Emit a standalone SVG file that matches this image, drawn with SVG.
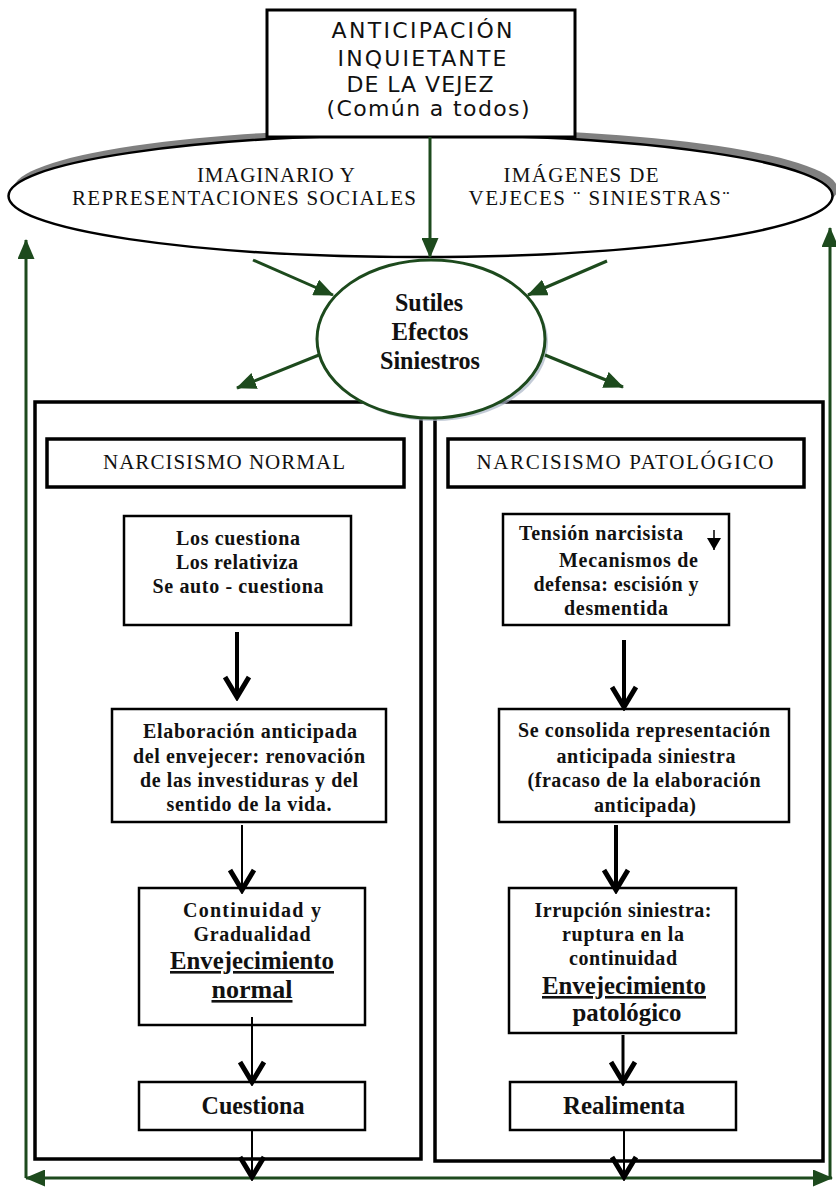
<svg xmlns="http://www.w3.org/2000/svg" width="836" height="1188" viewBox="0 0 836 1188">
<style>
.sans{font-family:"DejaVu Sans","Liberation Sans",sans-serif;font-size:22px;fill:#111}
.ser{font-family:"Liberation Serif","DejaVu Serif",serif;fill:#111}
.ell{font-size:21px}
.hdr{font-size:21px}
.bx{font-size:20px;font-weight:bold}
.big{font-size:26px;font-weight:bold}
.box{fill:#fff;stroke:#000;stroke-width:2.5}
.hbox{fill:#fff;stroke:#000;stroke-width:3.5}
.panel{fill:#fff;stroke:#000;stroke-width:3.5}
.g{stroke:#1d4a1d;stroke-width:3;fill:none}
.k{stroke:#000;fill:none}
</style>
<defs>
<marker id="ga" viewBox="0 0 20 17" refX="19" refY="8.5" markerWidth="20" markerHeight="17" markerUnits="userSpaceOnUse" orient="auto-start-reverse">
<path d="M0,0 L20,8.5 L0,17 z" fill="#1d4a1d"/>
</marker>
<marker id="kv" viewBox="0 0 28 26" refX="14" refY="22" markerWidth="28" markerHeight="26" markerUnits="userSpaceOnUse">
<path d="M2,2 L14,22 L26,2" fill="none" stroke="#000" stroke-width="5"/>
</marker>
<marker id="kt" viewBox="0 0 14 12" refX="7" refY="12" markerWidth="14" markerHeight="12" markerUnits="userSpaceOnUse">
<path d="M0,0 L14,0 L7,12 z" fill="#000"/>
</marker>
</defs>

<g id="ellipse-social">
<ellipse cx="425.5" cy="189" rx="412" ry="61" fill="#808080"/>
<ellipse cx="420.5" cy="196" rx="412" ry="61" fill="#fff" stroke="#000" stroke-width="2.5"/>
<text class="ser ell" x="276" y="182" text-anchor="middle" textLength="158" lengthAdjust="spacing">IMAGINARIO Y</text>
<text class="ser ell" x="244" y="205" text-anchor="middle" textLength="344" lengthAdjust="spacing">REPRESENTACIONES  SOCIALES</text>
<text class="ser ell" x="581" y="182" text-anchor="middle" textLength="155" lengthAdjust="spacing">IMÁGENES DE</text>
<text class="ser ell" x="599" y="205" text-anchor="middle" textLength="261" lengthAdjust="spacing">VEJECES ¨ SINIESTRAS¨</text>
</g>

<g id="anticipacion">
<rect x="267" y="10" width="308" height="127" fill="#fff" stroke="#000" stroke-width="3"/>
<text class="sans" x="422" y="38" text-anchor="middle" textLength="181" lengthAdjust="spacing">ANTICIPACIÓN</text>
<text class="sans" x="422" y="66" text-anchor="middle" textLength="169" lengthAdjust="spacing">INQUIETANTE</text>
<text class="sans" x="420" y="92" text-anchor="middle" textLength="147" lengthAdjust="spacing">DE LA VEJEZ</text>
<text class="sans" x="428" y="116" text-anchor="middle" textLength="203" lengthAdjust="spacing">(Común a todos)</text>
</g>

<g id="panel-normal">
<rect class="panel" x="35" y="402" width="386" height="757"/>
<rect class="hbox" x="47" y="439" width="357" height="48"/>
<text class="ser hdr" x="224" y="469" text-anchor="middle" textLength="242" lengthAdjust="spacing">NARCISISMO NORMAL</text>
</g>

<g id="panel-patologico">
<rect class="panel" x="435" y="402" width="388" height="759"/>
<rect class="hbox" x="448" y="439" width="356" height="48"/>
<text class="ser hdr" x="625" y="469" text-anchor="middle" textLength="297" lengthAdjust="spacing">NARCISISMO  PATOLÓGICO</text>
</g>

<g id="n1">
<rect class="box" x="124" y="516" width="227" height="109"/>
<text class="ser bx" x="238" y="545" text-anchor="middle" textLength="124" lengthAdjust="spacing">Los cuestiona</text>
<text class="ser bx" x="237" y="569" text-anchor="middle" textLength="122" lengthAdjust="spacing">Los relativiza</text>
<text class="ser bx" x="238" y="593" text-anchor="middle" textLength="171" lengthAdjust="spacing">Se auto - cuestiona</text>
</g>

<g id="n2">
<rect class="box" x="112" y="709" width="274" height="113"/>
<text class="ser bx" x="250" y="738" text-anchor="middle" textLength="214" lengthAdjust="spacing">Elaboración anticipada</text>
<text class="ser bx" x="249" y="763" text-anchor="middle" textLength="232" lengthAdjust="spacing">del envejecer: renovación</text>
<text class="ser bx" x="249" y="787" text-anchor="middle" textLength="218" lengthAdjust="spacing">de las investiduras y del</text>
<text class="ser bx" x="249" y="811" text-anchor="middle" textLength="165" lengthAdjust="spacing">sentido de la vida.</text>
</g>

<g id="n3">
<rect class="box" x="139" y="888" width="226" height="137"/>
<text class="ser bx" x="252" y="917" text-anchor="middle" textLength="138" lengthAdjust="spacing">Continuidad  y</text>
<text class="ser bx" x="252" y="941" text-anchor="middle" textLength="117" lengthAdjust="spacing">Gradualidad</text>
<text class="ser big" x="252" y="969" text-anchor="middle" textLength="164" lengthAdjust="spacingAndGlyphs" text-decoration="underline">Envejecimiento</text>
<text class="ser big" x="252" y="998" text-anchor="middle" textLength="81" lengthAdjust="spacingAndGlyphs" text-decoration="underline">normal</text>
</g>

<g id="n4">
<rect class="box" x="139" y="1082" width="226" height="48"/>
<text class="ser big" x="253" y="1114" text-anchor="middle" textLength="103" lengthAdjust="spacingAndGlyphs">Cuestiona</text>
</g>

<g id="p1">
<rect class="box" x="503" y="514" width="226" height="111"/>
<text class="ser bx" x="519" y="540" textLength="164" lengthAdjust="spacing">Tensión narcisista</text>
<text class="ser bx" x="559" y="567" textLength="139" lengthAdjust="spacing">Mecanismos de</text>
<text class="ser bx" x="616" y="591" text-anchor="middle" textLength="165" lengthAdjust="spacing">defensa: escisión y</text>
<text class="ser bx" x="616" y="615" text-anchor="middle" textLength="104" lengthAdjust="spacing">desmentida</text>
<path d="M714,530 L714,550" stroke="#000" stroke-width="1.5" marker-end="url(#kt)"/>
</g>

<g id="p2">
<rect class="box" x="499" y="709" width="290" height="113"/>
<text class="ser bx" x="644" y="737" text-anchor="middle" textLength="252" lengthAdjust="spacing">Se consolida representación</text>
<text class="ser bx" x="646" y="763" text-anchor="middle" textLength="179" lengthAdjust="spacing">anticipada siniestra</text>
<text class="ser bx" x="644" y="787" text-anchor="middle" textLength="233" lengthAdjust="spacing">(fracaso de la elaboración</text>
<text class="ser bx" x="645" y="812" text-anchor="middle" textLength="102" lengthAdjust="spacing">anticipada)</text>
</g>

<g id="p3">
<rect class="box" x="509" y="888" width="227" height="145"/>
<text class="ser bx" x="623" y="917" text-anchor="middle" textLength="177" lengthAdjust="spacing">Irrupción siniestra:</text>
<text class="ser bx" x="623" y="941" text-anchor="middle" textLength="122" lengthAdjust="spacing">ruptura en la</text>
<text class="ser bx" x="623" y="965" text-anchor="middle" textLength="108" lengthAdjust="spacing">continuidad</text>
<text class="ser big" x="624" y="994" text-anchor="middle" textLength="164" lengthAdjust="spacingAndGlyphs" text-decoration="underline">Envejecimiento</text>
<text class="ser big" x="627" y="1021" text-anchor="middle" textLength="109" lengthAdjust="spacingAndGlyphs">patológico</text>
</g>

<g id="p4">
<rect class="box" x="510" y="1082" width="226" height="48"/>
<text class="ser big" x="624" y="1114" text-anchor="middle" textLength="122" lengthAdjust="spacingAndGlyphs">Realimenta</text>
</g>

<g id="sutiles">
<ellipse cx="434" cy="342" rx="114" ry="79" fill="#a9b5c6" opacity="0.7"/>
<ellipse cx="431" cy="339" rx="114" ry="79" fill="#fff" stroke="#1d4a1d" stroke-width="3"/>
<text class="ser big" x="429" y="311" text-anchor="middle" textLength="68" lengthAdjust="spacingAndGlyphs">Sutiles</text>
<text class="ser big" x="430" y="340" text-anchor="middle" textLength="77" lengthAdjust="spacingAndGlyphs">Efectos</text>
<text class="ser big" x="430" y="369" text-anchor="middle" textLength="100" lengthAdjust="spacingAndGlyphs">Siniestros</text>
</g>

<g id="connectors">
<path class="g" d="M430,137 L430,257" marker-end="url(#ga)"/>
<path class="g" d="M253,260 L333,295" marker-end="url(#ga)"/>
<path class="g" d="M607,261 L528,295" marker-end="url(#ga)"/>
<path class="g" d="M319,355 L237,388" marker-end="url(#ga)"/>
<path class="g" d="M545,355 L623,387" marker-end="url(#ga)"/>
<path class="g" d="M26,1178 L26,240" marker-end="url(#ga)"/>
<path class="g" d="M830,1178 L830,228" marker-end="url(#ga)"/>
<path class="g" d="M26,1178 L832,1178" marker-start="url(#ga)" marker-end="url(#ga)"/>
<path class="k" d="M237,632 L237,697" stroke-width="4" marker-end="url(#kv)"/>
<path class="k" d="M242,825 L242,890" stroke-width="2" marker-end="url(#kv)"/>
<path class="k" d="M252,1017 L252,1082" stroke-width="2" marker-end="url(#kv)"/>
<path class="k" d="M252,1130 L252,1177" stroke-width="2" marker-end="url(#kv)"/>
<path class="k" d="M624,640 L624,707" stroke-width="4" marker-end="url(#kv)"/>
<path class="k" d="M616,825 L616,890" stroke-width="4" marker-end="url(#kv)"/>
<path class="k" d="M623,1035 L623,1082" stroke-width="3" marker-end="url(#kv)"/>
<path class="k" d="M624,1130 L624,1177" stroke-width="2" marker-end="url(#kv)"/>
</g>
</svg>
